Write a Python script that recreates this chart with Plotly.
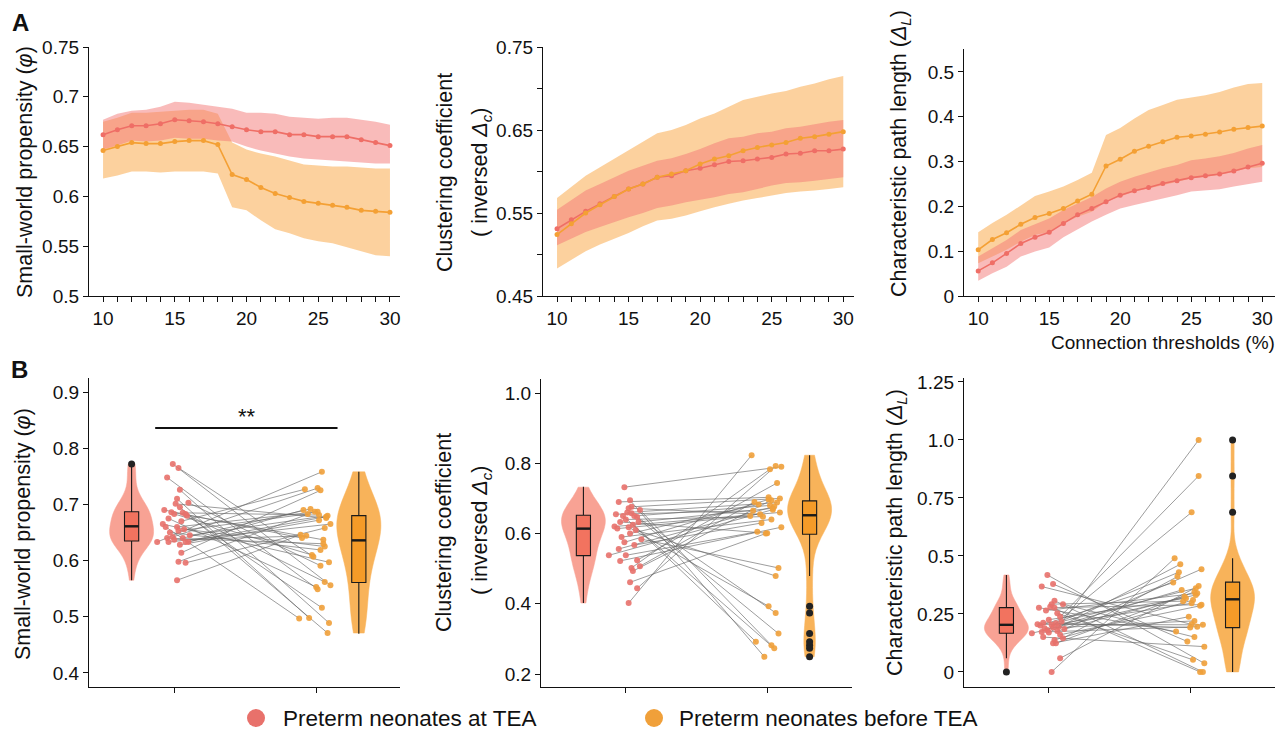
import plotly.graph_objects as go

W, H = 1286, 735
OFF = 8  # the page body adds an 8 px margin; positions below are page pixels
FONT = "Liberation Sans, Arial, Helvetica, sans-serif"

RED_LINE = "#EF6E66"
ORANGE_LINE = "#F4A034"
RED_BAND = "rgba(243,120,118,0.50)"
ORANGE_BAND = "rgba(250,172,78,0.55)"
RED_VIOLIN = "#F8A294"
RED_BOX = "#F2735F"
ORANGE_VIOLIN = "#F8B35A"
ORANGE_BOX = "#F59B28"
RED_PT = "#E8716B"
ORANGE_PT = "#F0A03A"
PAIR_LINE = "rgba(105,105,105,0.65)"

# ---------------- Panel A data (connection thresholds 10..30 %) ----------------
thresholds = list(range(10, 31))

sw_tea = [0.662, 0.667, 0.671, 0.671, 0.673, 0.677, 0.676, 0.675, 0.673, 0.670, 0.667,
          0.665, 0.665, 0.662, 0.662, 0.660, 0.660, 0.660, 0.657, 0.654, 0.651]
sw_tea_hi = [0.677, 0.683, 0.686, 0.687, 0.690, 0.695, 0.694, 0.692, 0.690, 0.688, 0.684,
             0.684, 0.683, 0.680, 0.679, 0.678, 0.679, 0.679, 0.677, 0.675, 0.672]
sw_tea_lo = [0.647, 0.651, 0.656, 0.655, 0.656, 0.659, 0.658, 0.658, 0.656, 0.655, 0.650,
             0.646, 0.643, 0.640, 0.638, 0.637, 0.636, 0.635, 0.634, 0.633, 0.633]
sw_pre = [0.646, 0.650, 0.654, 0.653, 0.653, 0.655, 0.656, 0.656, 0.652, 0.622, 0.617,
          0.609, 0.603, 0.599, 0.595, 0.593, 0.591, 0.589, 0.586, 0.585, 0.584]
sw_pre_hi = [0.675, 0.679, 0.684, 0.684, 0.685, 0.686, 0.687, 0.687, 0.683, 0.654, 0.647,
             0.643, 0.640, 0.636, 0.632, 0.631, 0.630, 0.630, 0.629, 0.628, 0.628]
sw_pre_lo = [0.618, 0.621, 0.625, 0.625, 0.624, 0.625, 0.625, 0.625, 0.623, 0.589, 0.586,
             0.576, 0.567, 0.563, 0.558, 0.555, 0.553, 0.549, 0.545, 0.541, 0.540]

cc_tea = [0.531, 0.542, 0.552, 0.561, 0.570, 0.579, 0.585, 0.593, 0.595, 0.601, 0.604,
          0.608, 0.612, 0.613, 0.615, 0.617, 0.621, 0.622, 0.625, 0.625, 0.627]
cc_tea_hi = [0.554, 0.565, 0.577, 0.585, 0.593, 0.601, 0.607, 0.613, 0.616, 0.621, 0.627,
             0.634, 0.640, 0.642, 0.646, 0.648, 0.652, 0.654, 0.657, 0.660, 0.662]
cc_tea_lo = [0.511, 0.519, 0.527, 0.533, 0.539, 0.545, 0.550, 0.556, 0.559, 0.563, 0.566,
             0.569, 0.573, 0.575, 0.579, 0.583, 0.586, 0.587, 0.589, 0.591, 0.593]
cc_pre = [0.524, 0.537, 0.550, 0.560, 0.570, 0.579, 0.585, 0.593, 0.597, 0.601, 0.609,
          0.615, 0.619, 0.625, 0.629, 0.632, 0.635, 0.640, 0.642, 0.645, 0.648]
cc_pre_hi = [0.568, 0.582, 0.595, 0.605, 0.615, 0.625, 0.636, 0.646, 0.650, 0.656, 0.664,
             0.670, 0.678, 0.686, 0.690, 0.694, 0.697, 0.702, 0.706, 0.711, 0.715]
cc_pre_lo = [0.483, 0.493, 0.504, 0.512, 0.519, 0.526, 0.534, 0.541, 0.543, 0.547, 0.552,
             0.557, 0.561, 0.565, 0.568, 0.571, 0.574, 0.576, 0.577, 0.579, 0.581]

pl_tea = [0.056, 0.074, 0.095, 0.117, 0.131, 0.142, 0.162, 0.181, 0.195, 0.210, 0.225,
          0.235, 0.242, 0.251, 0.257, 0.264, 0.268, 0.272, 0.279, 0.288, 0.296]
pl_tea_hi = [0.088, 0.106, 0.125, 0.147, 0.160, 0.173, 0.192, 0.207, 0.221, 0.240, 0.255,
             0.266, 0.275, 0.285, 0.292, 0.303, 0.307, 0.312, 0.319, 0.329, 0.337]
pl_tea_lo = [0.034, 0.051, 0.065, 0.088, 0.099, 0.108, 0.131, 0.149, 0.166, 0.181, 0.195,
             0.203, 0.210, 0.218, 0.225, 0.233, 0.235, 0.238, 0.244, 0.250, 0.255]
pl_pre = [0.103, 0.126, 0.141, 0.160, 0.175, 0.184, 0.195, 0.212, 0.227, 0.290, 0.305,
          0.323, 0.334, 0.344, 0.354, 0.357, 0.361, 0.366, 0.372, 0.376, 0.379]
pl_pre_hi = [0.142, 0.163, 0.181, 0.203, 0.223, 0.233, 0.244, 0.259, 0.275, 0.359, 0.375,
             0.396, 0.415, 0.426, 0.438, 0.443, 0.448, 0.455, 0.465, 0.473, 0.475]
pl_pre_lo = [0.073, 0.088, 0.103, 0.121, 0.136, 0.143, 0.162, 0.177, 0.188, 0.210, 0.221,
             0.233, 0.240, 0.247, 0.255, 0.262, 0.266, 0.270, 0.277, 0.285, 0.288]

# ---------------- Panel B data (paired subjects: at TEA -> before TEA) ----------------
sw_at = [0.772, 0.765, 0.748, 0.726, 0.710, 0.703, 0.701, 0.695, 0.690, 0.686, 0.685, 0.683,
         0.683, 0.680, 0.675, 0.670, 0.665, 0.660, 0.660, 0.656, 0.653, 0.650, 0.645, 0.642,
         0.640, 0.640, 0.637, 0.633, 0.633, 0.633, 0.633, 0.628, 0.614, 0.598, 0.596, 0.565]
sw_before = [0.556, 0.607, 0.549, 0.489, 0.498, 0.591, 0.676, 0.471, 0.640, 0.637, 0.681, 0.562,
             0.610, 0.516, 0.553, 0.727, 0.597, 0.687, 0.497, 0.625, 0.683, 0.619, 0.680, 0.729,
             0.692, 0.630, 0.644, 0.758, 0.678, 0.665, 0.690, 0.672, 0.725, 0.687, 0.658, 0.646]

cc_at = [0.732, 0.695, 0.690, 0.676, 0.672, 0.667, 0.660, 0.658, 0.655, 0.650, 0.650, 0.647,
         0.640, 0.633, 0.633, 0.625, 0.620, 0.618, 0.614, 0.610, 0.600, 0.590, 0.584, 0.575,
         0.567, 0.556, 0.538, 0.538, 0.524, 0.522, 0.507, 0.502, 0.493, 0.461, 0.444, 0.402]
cc_before = [0.790, 0.249, 0.703, 0.700, 0.655, 0.282, 0.688, 0.315, 0.665, 0.273, 0.680, 0.374,
             0.648, 0.672, 0.601, 0.292, 0.660, 0.393, 0.650, 0.479, 0.683, 0.640, 0.502, 0.697,
             0.630, 0.677, 0.605, 0.668, 0.744, 0.618, 0.690, 0.783, 0.695, 0.600, 0.792, 0.823]

pl_at = [0.418, 0.379, 0.368, 0.307, 0.292, 0.292, 0.281, 0.277, 0.277, 0.265, 0.253, 0.238,
         0.225, 0.217, 0.212, 0.210, 0.205, 0.203, 0.200, 0.195, 0.192, 0.188, 0.185, 0.180,
         0.176, 0.172, 0.170, 0.167, 0.160, 0.150, 0.145, 0.138, 0.124, 0.124, 0.059, 0.000]
pl_before = [0.037, 0.131, 0.205, 0.000, 0.305, 0.150, 0.000, 0.290, 0.174, 0.339, 0.052, 0.845,
             0.318, 0.361, 0.191, 0.430, 0.203, 0.296, 0.385, 1.000, 0.353, 0.220, 0.443, 0.688,
             0.325, 0.195, 0.464, 0.332, 0.285, 0.109, 0.411, 0.310, 0.345, 0.238, 0.370, 0.490]

# box statistics: [lower whisker, q1, median, q3, upper whisker]
sw_box_at = [0.565, 0.635, 0.661, 0.687, 0.767]
sw_box_before = [0.470, 0.561, 0.636, 0.680, 0.758]
cc_box_at = [0.402, 0.537, 0.614, 0.652, 0.733]
cc_box_before = [0.479, 0.598, 0.652, 0.693, 0.823]
pl_box_at = [0.059, 0.167, 0.203, 0.277, 0.418]
pl_box_before = [0.000, 0.191, 0.313, 0.387, 0.490]

# horizontal jitter of the paired dots
jit_at = [-0.01, 0.03, -0.05, 0.04, 0.02, 0.10, 0.01, 0.04, -0.07, -0.02, 0.06, 0.08,
          0.00, 0.09, -0.04, 0.05, -0.08, 0.02, -0.06, 0.07, 0.03, -0.03, 0.11, -0.01,
          0.06, -0.05, 0.00, -0.12, 0.08, -0.04, 0.10, 0.04, 0.05, 0.03, 0.08, 0.02]
jit_before = [0.10, -0.02, 0.01, 0.09, -0.05, 0.03, 0.07, 0.08, -0.10, 0.05, 0.02, 0.06,
              -0.03, 0.04, 0.00, -0.08, 0.09, 0.01, -0.12, 0.06, -0.06, 0.03, 0.08, 0.01,
              -0.04, 0.05, -0.07, 0.04, 0.07, 0.10, -0.09, 0.02, 0.03, -0.01, 0.06, -0.11]

legend_labels = ["Preterm neonates at TEA", "Preterm neonates before TEA"]

# ---------------- layout geometry (page pixels) ----------------
# (left, right, top, bottom)
boxes_px = [(89, 400, 47, 296), (543, 854, 47, 296), (964, 1275, 49, 296),
            (89, 400, 378, 687), (541, 852, 379, 687), (964, 1275, 378, 687)]


def fx(p):
    return (p - OFF) / W


def fy(p):
    return 1 - (p - OFF) / H


def dom_x(a, b):
    return [fx(a), fx(b)]


def dom_y(t, b):
    return [fy(b), fy(t)]


fig = go.Figure()


def skip(**kw):
    kw.setdefault("showlegend", False)
    kw.setdefault("hoverinfo", "skip")
    return kw


# ---------------- Panel A ----------------
top_sets = [
    ("x", "y", sw_pre, sw_pre_lo, sw_pre_hi, sw_tea, sw_tea_lo, sw_tea_hi),
    ("x2", "y2", cc_pre, cc_pre_lo, cc_pre_hi, cc_tea, cc_tea_lo, cc_tea_hi),
    ("x3", "y3", pl_pre, pl_pre_lo, pl_pre_hi, pl_tea, pl_tea_lo, pl_tea_hi),
]
for xa, ya, pre, pre_lo, pre_hi, tea, tea_lo, tea_hi in top_sets:
    fig.add_trace(go.Scatter(**skip(x=thresholds, y=pre_hi, mode="lines", line=dict(width=0, color=ORANGE_BAND),
                                    xaxis=xa, yaxis=ya)))
    fig.add_trace(go.Scatter(**skip(x=thresholds, y=pre_lo, mode="lines", line=dict(width=0, color=ORANGE_BAND),
                                    fill="tonexty", fillcolor=ORANGE_BAND, xaxis=xa, yaxis=ya)))
    fig.add_trace(go.Scatter(**skip(x=thresholds, y=tea_hi, mode="lines", line=dict(width=0, color=RED_BAND),
                                    xaxis=xa, yaxis=ya)))
    fig.add_trace(go.Scatter(**skip(x=thresholds, y=tea_lo, mode="lines", line=dict(width=0, color=RED_BAND),
                                    fill="tonexty", fillcolor=RED_BAND, xaxis=xa, yaxis=ya)))
    fig.add_trace(go.Scatter(**skip(x=thresholds, y=tea, mode="lines+markers",
                                    line=dict(color=RED_LINE, width=1.6), marker=dict(color=RED_LINE, size=5),
                                    xaxis=xa, yaxis=ya)))
    fig.add_trace(go.Scatter(**skip(x=thresholds, y=pre, mode="lines+markers",
                                    line=dict(color=ORANGE_LINE, width=1.6), marker=dict(color=ORANGE_LINE, size=5),
                                    xaxis=xa, yaxis=ya)))

# ---------------- Panel B ----------------
POS_VIOLIN_AT, POS_AT, POS_BEFORE, POS_VIOLIN_BEFORE = 0.7, 1.0, 2.0, 2.3
BOX_W = 0.1
VIOLIN_W = 0.31

bottom_sets = [
    ("x4", "y4", sw_at, sw_before, sw_box_at, sw_box_before),
    ("x5", "y5", cc_at, cc_before, cc_box_at, cc_box_before),
    ("x6", "y6", pl_at, pl_before, pl_box_at, pl_box_before),
]

for xa, ya, at, before, bx_at, bx_before in bottom_sets:
    for vals, pos, col in [(at, POS_VIOLIN_AT, RED_VIOLIN), (before, POS_VIOLIN_BEFORE, ORANGE_VIOLIN)]:
        fig.add_trace(go.Violin(**skip(x0=pos, y=vals, width=VIOLIN_W, spanmode="hard", points=False,
                                       fillcolor=col, line=dict(color=col, width=0.5), opacity=1,
                                       box_visible=False, meanline_visible=False, xaxis=xa, yaxis=ya)))
    for st, pos, col in [(bx_at, POS_VIOLIN_AT, RED_BOX), (bx_before, POS_VIOLIN_BEFORE, ORANGE_BOX)]:
        fig.add_trace(go.Box(**skip(x=[pos], lowerfence=[st[0]], q1=[st[1]], median=[st[2]], q3=[st[3]],
                                    upperfence=[st[4]], width=BOX_W, whiskerwidth=0, fillcolor=col,
                                    line=dict(color="#1a1a1a", width=1.1), boxpoints=False,
                                    xaxis=xa, yaxis=ya)))
        fig.add_trace(go.Scatter(**skip(x=[pos - BOX_W / 2, pos + BOX_W / 2], y=[st[2], st[2]], mode="lines",
                                        line=dict(color="#1a1a1a", width=2.4), xaxis=xa, yaxis=ya)))
    for vals, st, pos in [(at, bx_at, POS_VIOLIN_AT), (before, bx_before, POS_VIOLIN_BEFORE)]:
        outs = [v for v in vals if v < st[0] - 1e-9 or v > st[4] + 1e-9]
        if outs:
            fig.add_trace(go.Scatter(**skip(x=[pos] * len(outs), y=outs, mode="markers",
                                            marker=dict(color="#222222", size=7), xaxis=xa, yaxis=ya)))
    lx, ly = [], []
    for a, b, ja, jb in zip(at, before, jit_at, jit_before):
        lx += [POS_AT + ja, POS_BEFORE + jb, None]
        ly += [a, b, None]
    fig.add_trace(go.Scatter(**skip(x=lx, y=ly, mode="lines", line=dict(color=PAIR_LINE, width=1),
                                    xaxis=xa, yaxis=ya)))
    fig.add_trace(go.Scatter(**skip(x=[POS_AT + j for j in jit_at], y=at, mode="markers",
                                    marker=dict(color=RED_PT, size=6, opacity=0.9), xaxis=xa, yaxis=ya)))
    fig.add_trace(go.Scatter(**skip(x=[POS_BEFORE + j for j in jit_before], y=before, mode="markers",
                                    marker=dict(color=ORANGE_PT, size=6, opacity=0.9), xaxis=xa, yaxis=ya)))

# significance bar in B (small-world propensity)
sig_x = [0.866, 2.15]
sig_y = 0.836
fig.add_trace(go.Scatter(**skip(x=sig_x, y=[sig_y, sig_y], mode="lines", line=dict(color="#111111", width=1.8),
                                xaxis="x4", yaxis="y4")))

# ---------------- axes ----------------
def axis(**kw):
    d = dict(showline=True, linecolor="#111111", linewidth=1.3, ticks="outside", ticklen=5, tickwidth=1.2,
             tickcolor="#111111", showgrid=False, zeroline=False, automargin=False, tickangle=0,
             tickfont=dict(size=19, color="#111111", family=FONT))
    d.update(kw)
    return d


top_tickvals = thresholds
top_ticktext = [str(t) if t % 5 == 0 else " " for t in thresholds]

x_ranges = [[9.02, 30.7], [9.02, 30.75], [9.0, 30.9], [0.4, 2.59], [0.4, 2.6], [0.4, 2.6]]
y_ranges = [[0.5, 0.75], [0.45, 0.75], [0.0, 0.551], [0.375, 0.925], [0.163, 1.04], [-0.065, 1.267]]
y_ticks = [
    ([0.5, 0.55, 0.6, 0.65, 0.7, 0.75], ["0.5", "0.55", "0.6", "0.65", "0.7", "0.75"]),
    ([0.45, 0.5, 0.55, 0.6, 0.65, 0.7, 0.75], ["0.45", " ", "0.55", " ", "0.65", " ", "0.75"]),
    ([0, 0.1, 0.2, 0.3, 0.4, 0.5], ["0", "0.1", "0.2", "0.3", "0.4", "0.5"]),
    ([0.4, 0.5, 0.6, 0.7, 0.8, 0.9], ["0.4", "0.5", "0.6", "0.7", "0.8", "0.9"]),
    ([0.2, 0.4, 0.6, 0.8, 1.0], ["0.2", "0.4", "0.6", "0.8", "1.0"]),
    ([0, 0.25, 0.5, 0.75, 1.0, 1.25], ["0", "0.25", "0.5", "0.75", "1.0", "1.25"]),
]

layout_axes = {}
for i, (l, r, t, b) in enumerate(boxes_px):
    n = "" if i == 0 else str(i + 1)
    if i < 3:
        xt = dict(tickmode="array", tickvals=top_tickvals, ticktext=top_ticktext)
    else:
        xt = dict(tickmode="array", tickvals=[POS_AT, POS_BEFORE], ticktext=[" ", " "])
    layout_axes["xaxis" + n] = axis(domain=dom_x(l, r), range=x_ranges[i], anchor="y" + n, **xt)
    layout_axes["yaxis" + n] = axis(domain=dom_y(t, b), range=y_ranges[i], anchor="x" + n,
                                    tickmode="array", tickvals=y_ticks[i][0], ticktext=y_ticks[i][1])

fig.update_layout(**layout_axes)

# ---------------- texts ----------------
TS = 21.5


def txt(s, xp, yp, size=TS, angle=0, bold=False, xanchor="center", xref="paper", yref="paper"):
    return dict(text=("<b>%s</b>" % s) if bold else s, x=xp, y=yp, xref=xref, yref=yref,
                showarrow=False, textangle=angle, xanchor=xanchor, yanchor="middle",
                font=dict(size=size, color="#111111", family=FONT))


ann = [
    txt("A", fx(20), fy(22), size=24, bold=True),
    txt("B", fx(19), fy(369), size=24, bold=True),
    txt("Small-world propensity (<i>φ</i>)", fx(25), fy(172), angle=-90),
    txt("Clustering coefficient", fx(445), fy(173), angle=-90),
    txt("( inversed <i>Δ</i><sub><i>c</i></sub>)", fx(482), fy(172), angle=-90),
    txt("Characteristic path length (<i>Δ</i><sub><i>L</i></sub>)", fx(900), fy(153), angle=-90),
    txt("Connection thresholds (%)", fx(1163), fy(342), size=19),
    txt("Small-world propensity (<i>φ</i>)", fx(23), fy(534), angle=-90),
    txt("Clustering coefficient", fx(444), fy(533), angle=-90),
    txt("( inversed <i>Δ</i><sub><i>c</i></sub>)", fx(481), fy(530), angle=-90),
    txt("Characteristic path length (<i>Δ</i><sub><i>L</i></sub>)", fx(896), fy(533), angle=-90),
    txt("**", 1.51, 0.857, size=22, xref="x4", yref="y4"),
    txt(legend_labels[0], fx(281), fy(718), size=22.5, xanchor="left"),
    txt(legend_labels[1], fx(677), fy(718), size=22.5, xanchor="left"),
]

shapes = []
for cx, col in [(256, RED_PT), (654, ORANGE_PT)]:
    shapes.append(dict(type="circle", xref="paper", yref="paper", xsizemode="pixel", ysizemode="pixel",
                       xanchor=fx(cx), yanchor=fy(718), x0=-9, x1=9, y0=-9, y1=9,
                       fillcolor=col, line=dict(width=0)))

fig.update_layout(
    width=W, height=H, margin=dict(l=0, r=0, t=0, b=0, autoexpand=False),
    paper_bgcolor="white", plot_bgcolor="white",
    showlegend=False, annotations=ann, shapes=shapes,
    font=dict(family=FONT, color="#111111"),
    violinmode="overlay", boxmode="overlay",
)

fig.write_html("out.html")
